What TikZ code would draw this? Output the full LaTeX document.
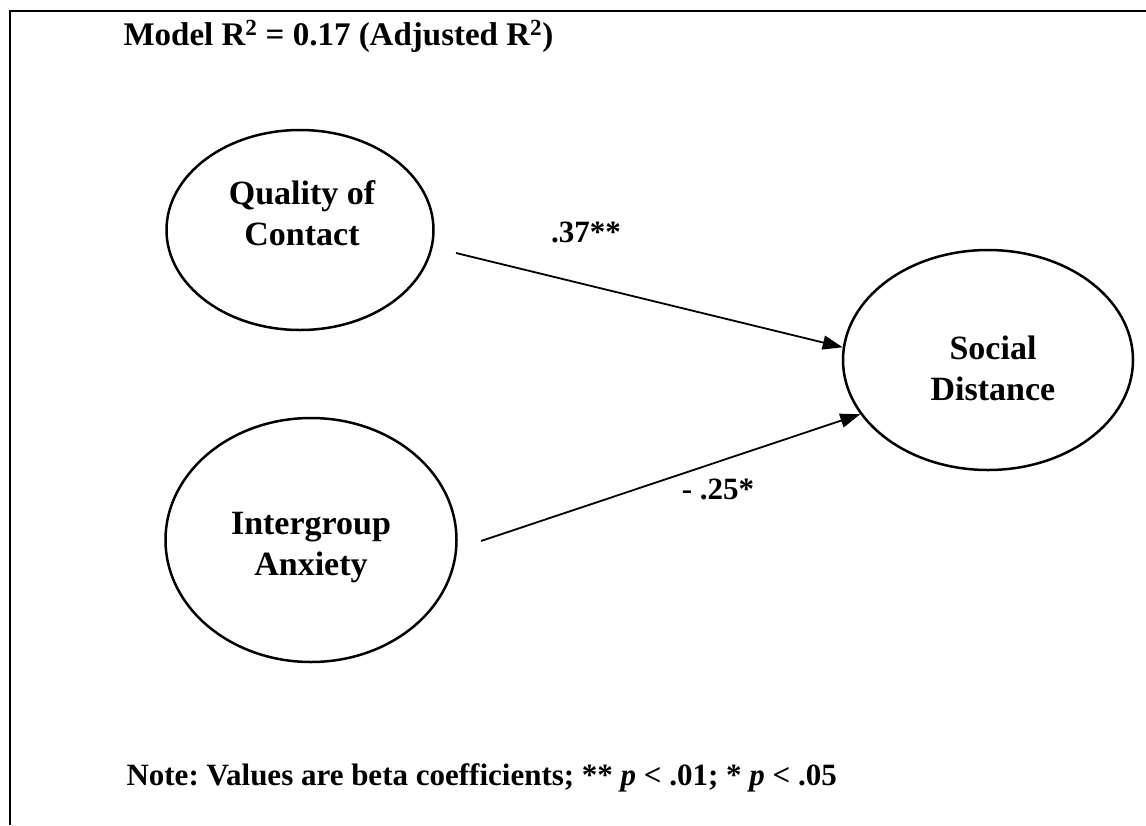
\documentclass[tikz,border=0pt]{standalone}
\usepackage{fontspec}
\setmainfont{Liberation Serif}
\usetikzlibrary{shapes.geometric}
\usetikzlibrary{arrows.meta}
\frenchspacing

\begin{document}
\begin{tikzpicture}[x=1pt,y=-1pt,
  oval/.style={draw,ellipse,line width=2.5pt,inner sep=0pt},
  lbl/.style={font=\fontsize{34}{41}\selectfont\bfseries,align=center},
  coef/.style={font=\fontsize{31}{36}\selectfont\bfseries,anchor=base},
  effect/.style={line width=1.8pt,-{Triangle[length=20pt,width=14pt]}}]
\useasboundingbox (0,0) rectangle (1146,825);
\draw[line width=2pt] (10,825) -- (10,11) -- (1146,11);
\node[anchor=base west,font=\fontsize{33}{38}\selectfont\bfseries] (title) at (120,45) {Model R\textsuperscript{2} = 0.17 (Adjusted R\textsuperscript{2})};
\node[oval,minimum width=267pt,minimum height=200pt] (qoc) at (300,230) {};
\node[oval,minimum width=291pt,minimum height=244pt] (ia) at (311,540) {};
\node[oval,minimum width=290pt,minimum height=220pt] (sd) at (988,360) {};
\node[lbl] (qoc-txt) at (302,213) {Quality of\\Contact};
\node[lbl] (ia-txt) at (311,548) {Intergroup\\Anxiety};
\node[lbl] (sd-txt) at (993,368) {Social\\Distance};
\coordinate (qoc-out) at (456,253);
\coordinate (ia-out) at (481,541);
\draw[effect] (qoc-out) -- (sd.175);
\draw[effect] (ia-out) -- (sd.203);
\node[coef] (b-qoc) at (586,242) {.37**};
\node[coef] (b-ia) at (718,499) {- .25*};
\node[anchor=base west,font=\fontsize{31}{36}\selectfont\bfseries] (note) at (123,785) {Note: Values are beta coefficients; ** \textit{p} < .01; * \textit{p} < .05};
\end{tikzpicture}
\end{document}
